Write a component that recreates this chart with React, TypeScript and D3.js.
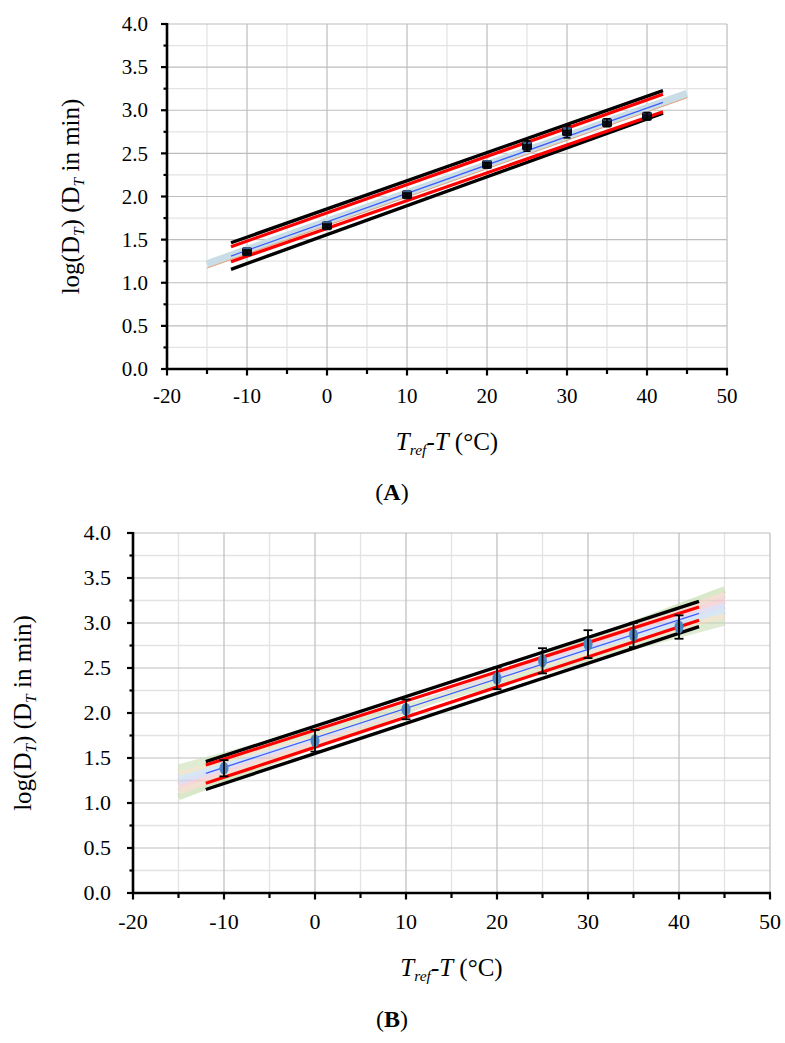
import React from "react";
import * as d3 from "d3";

// ---------- data ----------
const temps = [-10, 0, 10, 20, 25, 30, 35, 40];

// Panel A
const logDA = [1.36, 1.66, 2.02, 2.37, 2.585, 2.75, 2.856, 2.93];
const errA = [0.02, 0.02, 0.02, 0.025, 0.06, 0.07, 0.045, 0.04];
const lineXA = [-12, 42];
const fitA = [1.31, 3.092];
const redUpperA = [1.418, 3.185];
const redLowerA = [1.244, 2.983];
const blackUpperA = [1.464, 3.227];
const blackLowerA = [1.156, 2.965];
const bandX = [-15, 45];
const bandA = [1.215, 3.19];
const bandEdgeA = [1.17, 3.145];

// Panel B
const logDB = [1.386, 1.692, 2.04, 2.385, 2.58, 2.765, 2.867, 2.955];
const errB = [0.09, 0.12, 0.11, 0.12, 0.14, 0.155, 0.135, 0.13];
const lineXB = [-12, 42.2];
const fitB = [1.33, 3.107];
const redUpperB = [1.422, 3.177];
const redLowerB = [1.219, 3.03];
const blackUpperB = [1.46, 3.24];
const blackLowerB = [1.15, 2.96];
const fanB = [
  [1.07, 3.37],
  [1.13, 3.31],
  [1.2, 3.25],
  [1.24, 3.19],
  [1.29, 3.13],
  [1.34, 3.07],
  [1.39, 3.01],
];
const fanColors = ["#b9d8a0", "#e8c8b0", "#f0b8c0", "#c4c8ec", "#b8d4ea", "#e6d2a8", "#c8dcb0"];

const xMajor = [-20, -10, 0, 10, 20, 30, 40, 50];
const xMinor = [-15, -5, 5, 15, 25, 35, 45];
const yMajor = [0, 0.5, 1, 1.5, 2, 2.5, 3, 3.5, 4];
const yMinor = [0.25, 0.75, 1.25, 1.75, 2.25, 2.75, 3.25, 3.75];
const yLabels = ["0.0", "0.5", "1.0", "1.5", "2.0", "2.5", "3.0", "3.5", "4.0"];
const xLabels = ["-20", "-10", "0", "10", "20", "30", "40", "50"];

const FONT = "'Liberation Serif', 'Times New Roman', serif";

type PanelProps = {
  x0: number; x1: number; y0: number; y1: number;
  fs: number; titleFs: number; tagFs: number;
  yLabelX: number; xLabelY: number; xTitleY: number; yTitleX: number;
  tagY: number; tag: string; tagX: number;
  vals: number[]; errs: number[];
  lineX: number[]; fit: number[]; redU: number[]; redL: number[]; blkU: number[]; blkL: number[];
  variant: "A" | "B";
};

function Panel(p: PanelProps) {
  const x = d3.scaleLinear().domain([-20, 50]).range([p.x0, p.x1]);
  const y = d3.scaleLinear().domain([0, 4]).range([p.y1, p.y0]);
  const seg = (xs: number[], ys: number[]) =>
    d3.line<number>().x((_, i) => x(xs[i])).y((d) => y(d))(ys) || "";
  const cx = (p.x0 + p.x1) / 2;
  const cy = (p.y0 + p.y1) / 2;
  return (
    <g fontFamily={FONT} fill="#000">
      {/* minor grid */}
      {xMinor.map((v) => (
        <line key={"xm" + v} x1={x(v)} x2={x(v)} y1={p.y0} y2={p.y1} stroke="#e3e3e3" strokeWidth={1.3} />
      ))}
      {yMinor.map((v) => (
        <line key={"ym" + v} x1={p.x0} x2={p.x1} y1={y(v)} y2={y(v)} stroke="#e3e3e3" strokeWidth={1.3} />
      ))}
      {/* major grid */}
      {xMajor.slice(1).map((v) => (
        <line key={"xM" + v} x1={x(v)} x2={x(v)} y1={p.y0} y2={p.y1} stroke="#bdbdbd" strokeWidth={1.2} />
      ))}
      {yMajor.slice(1).map((v) => (
        <line key={"yM" + v} x1={p.x0} x2={p.x1} y1={y(v)} y2={y(v)} stroke="#bdbdbd" strokeWidth={1.2} />
      ))}

      {/* extrapolation band */}
      {p.variant === "A" ? (
        <g>
          <path d={seg(bandX, bandA)} stroke="#c9dde6" strokeWidth={8} fill="none" />
          <path d={seg(bandX, bandEdgeA)} stroke="#e8a47c" strokeWidth={1} fill="none" />
        </g>
      ) : (
        <g opacity={0.55}>
          {fanB.map((f, i) => (
            <path key={"fan" + i} d={seg(bandX, f)} stroke={fanColors[i]} strokeWidth={7} fill="none" />
          ))}
        </g>
      )}

      {/* bound lines */}
      <path d={seg(p.lineX, p.blkU)} stroke="#000" strokeWidth={3.4} fill="none" />
      <path d={seg(p.lineX, p.blkL)} stroke="#000" strokeWidth={3.4} fill="none" />
      <path d={seg(p.lineX, p.redU)} stroke="#ff0000" strokeWidth={3.2} fill="none" />
      <path d={seg(p.lineX, p.redL)} stroke="#ff0000" strokeWidth={3.2} fill="none" />
      <path d={seg(p.lineX, p.fit)} stroke="#3f5cff" strokeWidth={1.3} fill="none" />

      {/* data points */}
      {temps.map((t, i) => {
        const px = x(t);
        const py = y(p.vals[i]);
        const e1 = y(p.vals[i] + p.errs[i]);
        const e2 = y(p.vals[i] - p.errs[i]);
        return p.variant === "A" ? (
          <g key={"pt" + i}>
            <rect x={px - 5} y={py - 4.5} width={10} height={9} rx={2} fill="#0b0d18" />
            <rect x={px - 4} y={py - 4.5} width={8} height={2.5} rx={1} fill="#3a5f8f" />
            <line x1={px} x2={px} y1={e1} y2={e2} stroke="#000" strokeWidth={1.6} />
            <line x1={px - 3.5} x2={px + 3.5} y1={e1} y2={e1} stroke="#000" strokeWidth={1.6} />
            <line x1={px - 3.5} x2={px + 3.5} y1={e2} y2={e2} stroke="#000" strokeWidth={1.6} />
          </g>
        ) : (
          <g key={"pt" + i}>
            <ellipse cx={px} cy={py} rx={4.5} ry={6.5} fill="#4f86c0" />
            <line x1={px} x2={px} y1={e1} y2={e2} stroke="#000" strokeWidth={1.8} />
            <line x1={px - 4.5} x2={px + 4.5} y1={e1} y2={e1} stroke="#000" strokeWidth={1.8} />
            <line x1={px - 4.5} x2={px + 4.5} y1={e2} y2={e2} stroke="#000" strokeWidth={1.8} />
          </g>
        );
      })}

      {/* axes */}
      <line x1={p.x0} x2={p.x0} y1={p.y0 - 1} y2={p.y1 + 1} stroke="#000" strokeWidth={2.6} />
      <line x1={p.x0 - 1} x2={p.x1 + 1} y1={p.y1} y2={p.y1} stroke="#000" strokeWidth={2.6} />
      {yMajor.map((v) => (
        <line key={"yt" + v} x1={p.x0 - 6} x2={p.x0} y1={y(v)} y2={y(v)} stroke="#000" strokeWidth={2.2} />
      ))}
      {yMinor.map((v) => (
        <line key={"ytm" + v} x1={p.x0 - 3.5} x2={p.x0} y1={y(v)} y2={y(v)} stroke="#000" strokeWidth={2.2} />
      ))}
      {xMajor.map((v) => (
        <line key={"xt" + v} x1={x(v)} x2={x(v)} y1={p.y1} y2={p.y1 + 6.5} stroke="#000" strokeWidth={2.2} />
      ))}
      {xMinor.map((v) => (
        <line key={"xtm" + v} x1={x(v)} x2={x(v)} y1={p.y1} y2={p.y1 + 5} stroke="#000" strokeWidth={2.2} />
      ))}

      {/* tick labels */}
      {yMajor.map((v, i) => (
        <text key={"yl" + v} x={p.yLabelX} y={y(v)} dy="0.34em" textAnchor="end" fontSize={p.fs}>
          {yLabels[i]}
        </text>
      ))}
      {xMajor.map((v, i) => (
        <text key={"xl" + v} x={x(v)} y={p.xLabelY} textAnchor="middle" fontSize={p.fs}>
          {xLabels[i]}
        </text>
      ))}

      {/* axis titles */}
      <text x={cx} y={p.xTitleY} textAnchor="middle" fontSize={p.titleFs}>
        <tspan fontStyle="italic">T</tspan>
        <tspan fontStyle="italic" fontSize={p.titleFs * 0.62} dy={5}>ref</tspan>
        <tspan dy={-5}>-</tspan>
        <tspan fontStyle="italic">T</tspan>
        <tspan> (°C)</tspan>
      </text>
      <text
        transform={`translate(${p.yTitleX},${cy}) rotate(-90)`}
        textAnchor="middle"
        fontSize={p.titleFs}
      >
        <tspan>log(D</tspan>
        <tspan fontStyle="italic" fontSize={p.titleFs * 0.62} dy={5}>T</tspan>
        <tspan dy={-5}>) (D</tspan>
        <tspan fontStyle="italic" fontSize={p.titleFs * 0.62} dy={5}>T</tspan>
        <tspan dy={-5}> in min)</tspan>
      </text>

      {/* panel tag */}
      <text x={p.tagX} y={p.tagY} textAnchor="middle" fontSize={p.tagFs}>
        <tspan>(</tspan>
        <tspan fontWeight="bold">{p.tag}</tspan>
        <tspan>)</tspan>
      </text>
    </g>
  );
}

export default function App() {
  return (
    <svg
      width={785}
      height={1043}
      viewBox="0 0 785 1043"
      style={{ position: "absolute", left: 0, top: 0, background: "#fff" }}
    >
      <rect width={785} height={1043} fill="#fff" />
      <Panel
        x0={167} x1={727} y0={24} y1={369}
        fs={21} titleFs={25} tagFs={24}
        yLabelX={148} xLabelY={403} xTitleY={450} yTitleX={79}
        tagX={392} tagY={500} tag="A"
        vals={logDA} errs={errA}
        lineX={lineXA} fit={fitA} redU={redUpperA} redL={redLowerA} blkU={blackUpperA} blkL={blackLowerA}
        variant="A"
      />
      <Panel
        x0={133} x1={770} y0={533} y1={893}
        fs={22} titleFs={25} tagFs={24}
        yLabelX={111} xLabelY={929} xTitleY={976} yTitleX={31}
        tagX={392} tagY={1027} tag="B"
        vals={logDB} errs={errB}
        lineX={lineXB} fit={fitB} redU={redUpperB} redL={redLowerB} blkU={blackUpperB} blkL={blackLowerB}
        variant="B"
      />
    </svg>
  );
}
